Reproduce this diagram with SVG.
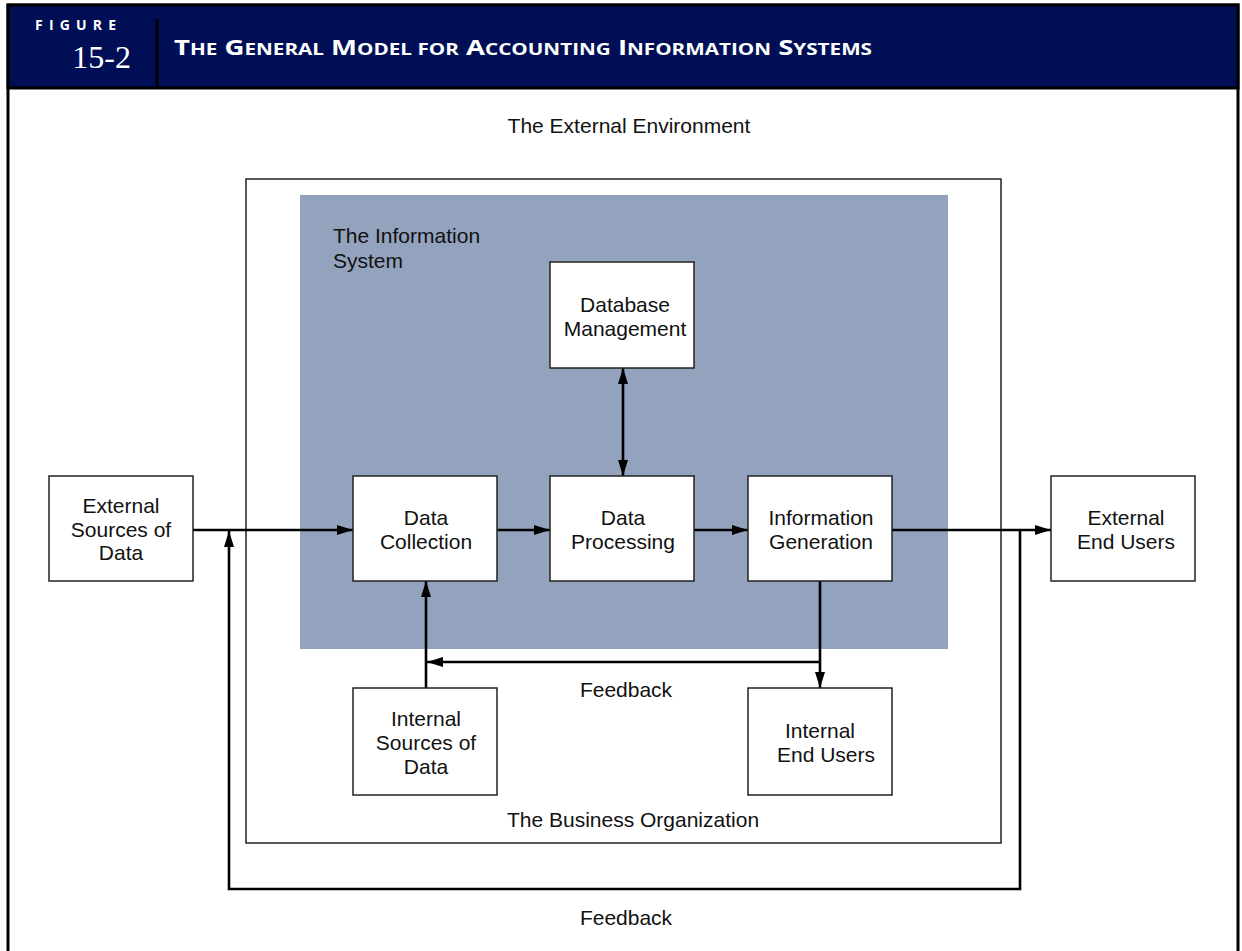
<svg xmlns="http://www.w3.org/2000/svg" width="1242" height="951" viewBox="0 0 1242 951">
<style>
.t{font-family:"Liberation Sans",Arial,sans-serif;font-size:21px;fill:#111;text-anchor:middle}
.node{fill:#fff;stroke:#222;stroke-width:1.5}
.c{fill:none;stroke:#000;stroke-width:2.6}
.hd{font-family:"Open Sans","Liberation Sans",sans-serif;font-weight:bold;fill:#fff}
</style>
<defs>
<marker id="ah" viewBox="0 0 16 10" refX="16" refY="5" markerWidth="16" markerHeight="10" markerUnits="userSpaceOnUse" orient="auto-start-reverse">
<path d="M0,0 L16,5 L0,10 Z" fill="#000"/>
</marker>
</defs>
<rect width="1242" height="951" fill="#fff"/>
<g id="frame">
<rect x="8" y="5" width="1230" height="960" fill="#fff" stroke="#000" stroke-width="3"/>
<rect x="8" y="5" width="1230" height="83" fill="#000F55" stroke="#000" stroke-width="3"/>
<line x1="157" y1="19" x2="157" y2="88" stroke="#000" stroke-width="3"/>
<text class="hd" x="35" y="30" font-size="14" letter-spacing="6.2">FIGURE</text>
<text x="131" y="68" font-family="'Liberation Serif','Times New Roman',serif" font-size="32" fill="#fff" text-anchor="end">15-2</text>
<text class="hd" x="174" y="55" font-size="22" textLength="698" lengthAdjust="spacingAndGlyphs">T<tspan font-size="16.5">HE</tspan> G<tspan font-size="16.5">ENERAL</tspan> M<tspan font-size="16.5">ODEL FOR</tspan> A<tspan font-size="16.5">CCOUNTING</tspan> I<tspan font-size="16.5">NFORMATION</tspan> S<tspan font-size="16.5">YSTEMS</tspan></text>
</g>
<text class="t" x="629" y="133">The External Environment</text>
<g id="business-organization">
<rect x="246" y="179" width="755" height="664" fill="none" stroke="#222" stroke-width="1.5"/>
<text class="t" x="633" y="827">The Business Organization</text>
</g>
<g id="information-system">
<rect x="300" y="195" width="648" height="454" fill="#93A2BD"/>
<text class="t" x="333" y="243" style="text-anchor:start">The Information</text>
<text class="t" x="333" y="268" style="text-anchor:start">System</text>
</g>
<g id="connectors">
<line class="c" x1="193" y1="530" x2="353" y2="530" marker-end="url(#ah)"/>
<line class="c" x1="497" y1="530" x2="550" y2="530" marker-end="url(#ah)"/>
<line class="c" x1="694" y1="530" x2="748" y2="530" marker-end="url(#ah)"/>
<line class="c" x1="892" y1="530" x2="1051" y2="530" marker-end="url(#ah)"/>
<line class="c" x1="623" y1="368" x2="623" y2="476" marker-start="url(#ah)" marker-end="url(#ah)"/>
<line class="c" x1="820" y1="581" x2="820" y2="688" marker-end="url(#ah)"/>
<line class="c" x1="820" y1="662" x2="427" y2="662" marker-end="url(#ah)"/>
<line class="c" x1="426" y1="688" x2="426" y2="581" marker-end="url(#ah)"/>
<polyline class="c" points="1020,530 1020,889 229,889 229,531" marker-end="url(#ah)"/>
<text class="t" x="626" y="697">Feedback</text>
<text class="t" x="626" y="925">Feedback</text>
</g>
<g id="external-sources">
<rect class="node" x="49" y="476" width="144" height="105"/>
<text class="t" x="121" y="513">External</text>
<text class="t" x="121" y="537">Sources of</text>
<text class="t" x="121" y="560">Data</text>
</g>
<g id="data-collection">
<rect class="node" x="353" y="476" width="144" height="105"/>
<text class="t" x="426" y="525">Data</text>
<text class="t" x="426" y="549">Collection</text>
</g>
<g id="data-processing">
<rect class="node" x="550" y="476" width="144" height="105"/>
<text class="t" x="623" y="525">Data</text>
<text class="t" x="623" y="549">Processing</text>
</g>
<g id="information-generation">
<rect class="node" x="748" y="476" width="144" height="105"/>
<text class="t" x="821" y="525">Information</text>
<text class="t" x="821" y="549">Generation</text>
</g>
<g id="external-end-users">
<rect class="node" x="1051" y="476" width="144" height="105"/>
<text class="t" x="1126" y="525">External</text>
<text class="t" x="1126" y="549">End Users</text>
</g>
<g id="database-management">
<rect class="node" x="550" y="262" width="144" height="106"/>
<text class="t" x="625" y="312">Database</text>
<text class="t" x="625" y="336">Management</text>
</g>
<g id="internal-sources">
<rect class="node" x="353" y="688" width="144" height="107"/>
<text class="t" x="426" y="726">Internal</text>
<text class="t" x="426" y="750">Sources of</text>
<text class="t" x="426" y="774">Data</text>
</g>
<g id="internal-end-users">
<rect class="node" x="748" y="688" width="144" height="107"/>
<text class="t" x="820" y="738">Internal</text>
<text class="t" x="826" y="762">End Users</text>
</g>
</svg>
